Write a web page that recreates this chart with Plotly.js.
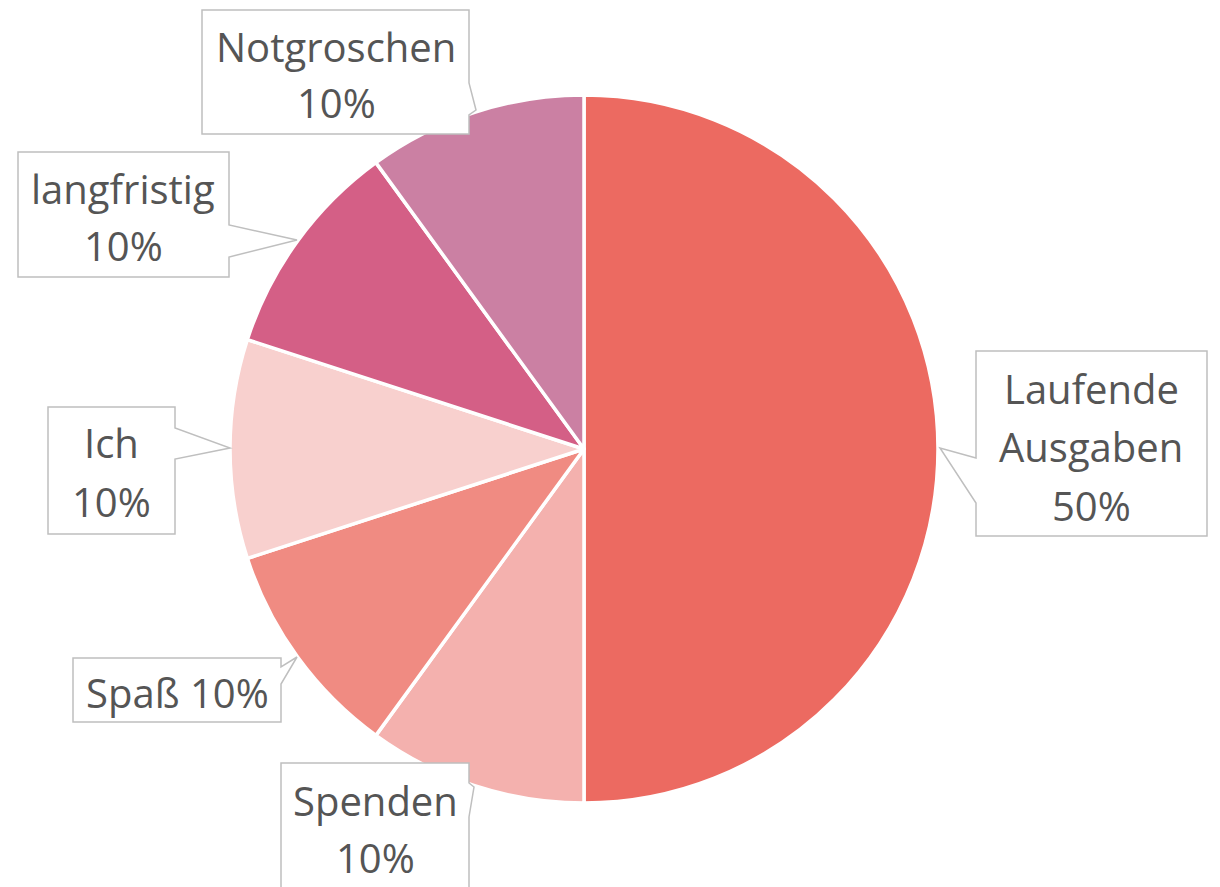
<!DOCTYPE html>
<html>
<head>
<meta charset="utf-8">
<script src="https://cdn.plot.ly/plotly-3.0.1.min.js"></script>
<style>html,body{margin:0;padding:0;background:#fff;}#chart{width:1220px;height:887px;}</style>
</head>
<body>
<div id="chart"></div>
<script>
// Data
var categories = ["Laufende Ausgaben", "Spenden", "Spaß", "Ich", "langfristig", "Notgroschen"];
var values = [50, 10, 10, 10, 10, 10];
var colors = ["#EC6A61", "#F4B1AE", "#F08B82", "#F8D0CE", "#D45F86", "#CB80A3"];
// Label wrapping as in the original ("%" is replaced by the slice percentage)
var labelLines = [["Laufende", "Ausgaben", "%"], ["Spenden", "%"], ["Spaß %"], ["Ich", "%"], ["langfristig", "%"], ["Notgroschen", "%"]];

// Layout helpers (pixel -> paper)
var W = 1220, H = 887;
function px(x) { return x / W; }
function py(y) { return 1 - y / H; }

// Callout boxes: [left, top, right, bottom], tail points, text line centres
var callouts = [
  {box: [976, 351, 1207, 536], tail: {side: "left", a: 458, tip: [940, 448], b: 503}, cx: 1091, ys: [388, 446, 505]},
  {box: [281, 763, 469, 895], tail: {side: "right", a: 783, tip: [474, 787], b: 817}, cx: 375, ys: [800, 857]},
  {box: [73, 658, 281, 722], tail: {side: "right", a: 667, tip: [297, 657], b: 684}, cx: 177, ys: [692]},
  {box: [48, 407, 175, 534], tail: {side: "right", a: 428, tip: [230, 448], b: 459}, cx: 111, ys: [443, 501]},
  {box: [18, 152, 229, 277], tail: {side: "right", a: 225, tip: [297, 240], b: 257}, cx: 123, ys: [188, 246]},
  {box: [202, 10, 469, 134], tail: {side: "right", a: 83, tip: [476, 110], b: 115}, cx: 336, ys: [47, 103]}
];

var total = values.reduce(function (s, v) { return s + v; }, 0);
var shapes = [], annotations = [];
callouts.forEach(function (c, i) {
  var L = c.box[0], T = c.box[1], R = c.box[2], B = c.box[3], t = c.tail;
  var pts;
  if (t.side === "right") {
    pts = [[L, T], [R, T], [R, t.a], t.tip, [R, t.b], [R, B], [L, B]];
  } else {
    pts = [[L, T], [R, T], [R, B], [L, B], [L, t.b], t.tip, [L, t.a]];
  }
  var d = pts.map(function (p, k) { return (k ? "L" : "M") + px(p[0]) + "," + py(p[1]); }).join(" ") + " Z";
  shapes.push({type: "path", xref: "paper", yref: "paper", path: d, fillcolor: "#FFFFFF",
    line: {color: "#BFBFBF", width: 1.5}, layer: "above"});
  var pct = Math.round(values[i] / total * 100) + "%";
  labelLines[i].forEach(function (ln, k) {
    annotations.push({xref: "paper", yref: "paper", x: px(c.cx), y: py(c.ys[k]), xanchor: "center", yanchor: "middle",
      text: ln.replace("%", pct), showarrow: false,
      font: {family: "Open Sans, sans-serif", size: 40, color: "#555555"}});
  });
});

var cx = 584, cy = 449, r = 354;
var trace = {
  type: "pie",
  labels: categories,
  values: values,
  sort: false,
  direction: "clockwise",
  rotation: 0,
  textinfo: "none",
  hoverinfo: "label+percent",
  marker: {colors: colors, line: {color: "#FFFFFF", width: 3.5}},
  domain: {x: [px(cx - r), px(cx + r)], y: [py(cy + r), py(cy - r)]}
};

Plotly.newPlot("chart", [trace], {
  width: W, height: H,
  margin: {l: 0, r: 0, t: 0, b: 0},
  paper_bgcolor: "#FFFFFF",
  showlegend: false,
  shapes: shapes,
  annotations: annotations
}, {displayModeBar: false, staticPlot: true});
</script>
</body>
</html>
